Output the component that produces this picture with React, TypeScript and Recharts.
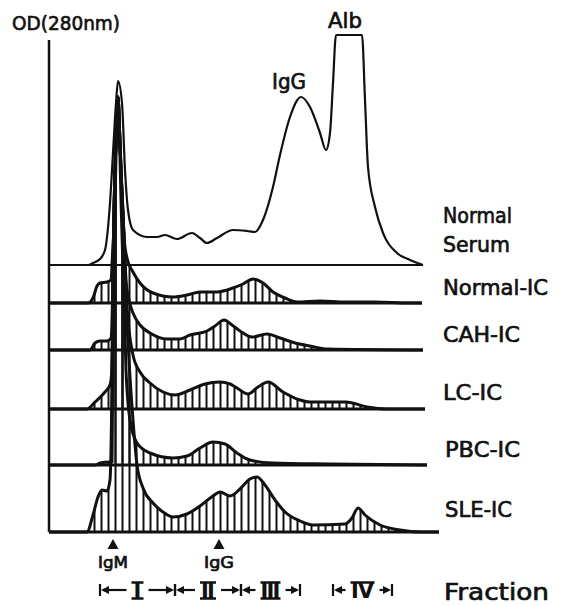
import { ComposedChart, Area, XAxis, YAxis, ReferenceLine, ReferenceDot } from 'recharts';

// elution profiles: [fraction position, OD above the trace's own baseline]
type Pt = [number, number];

const normalSerum: Pt[] = [
  [0, 0], [7.8, 0], [8.8, 0.5], [10.2, 1.5], [11.2, 3.75], [12.2, 15.5], [12.8, 28], [13.4, 40.5], [13.8, 46],
  [14.6, 40.5], [15.2, 23.75], [15.8, 13.75], [16.8, 8.75], [19.6, 7], [21.6, 7], [23.2, 7.5], [25.6, 6.5],
  [28.6, 8], [30.2, 6.75], [31.6, 5.5], [33.6, 6.75], [36.8, 8.75], [39.6, 8.5], [41.2, 8.25], [42.8, 11.25],
  [44.8, 19.5], [46.2, 27.5], [48.2, 37], [50.4, 42], [52.2, 39.5], [54.2, 33], [55.4, 28.75], [56.2, 33],
  [56.8, 45.5], [57.4, 57.5], [62.6, 57.5], [63.2, 41.25], [63.8, 24.5], [65.2, 14.5], [66.8, 8], [69.6, 3],
  [72.2, 1.25], [74.8, 0],
];

const normalIC: Pt[] = [
  [0, 0], [7.8, 0], [8.8, 1.25], [9.6, 4.25], [10.2, 5], [11.6, 5.25], [12.4, 5.75], [12.7, 12], [12.9, 16.5],
  [13.2, 33.25], [13.5, 43.25], [13.8, 51.5], [14.1, 43.25], [14.4, 33.25], [15, 16.5], [15.6, 11.25],
  [16.8, 7.75], [18.2, 5], [20.8, 2.5], [24.8, 1.5], [27.6, 2], [30.2, 2.75], [33.6, 2.75], [36.8, 3.75],
  [38.8, 4.75], [40.8, 6], [42.8, 5], [44.8, 2.75], [47.2, 1.25], [49.6, 0.25], [54.2, 0.5], [59.2, 0.25],
  [65.2, 0.25], [72.2, 0], [74.6, 0],
];

const cahIC: Pt[] = [
  [0, 0], [8.2, 0], [9.2, 1.75], [10.2, 2.25], [11.6, 2.25], [12.4, 3], [12.7, 12.5], [12.9, 28.25], [13.2, 45],
  [13.5, 55], [13.8, 63.25], [14.1, 55], [14.4, 45], [15, 28.25], [15.4, 17.5], [16, 12.5], [16.8, 9.25],
  [18.2, 6.25], [20.2, 4.25], [23.6, 2.75], [26.2, 2.75], [28.2, 3.75], [31.6, 4.75], [33.2, 6], [35, 7.5],
  [36.6, 6.25], [38.2, 4.75], [40.6, 3.25], [43.6, 4], [46.2, 3], [49.2, 1.75], [52.2, 1], [55.6, 0.25],
  [74.8, 0],
];

const lcIC: Pt[] = [
  [0, 0], [7.6, 0], [9.2, 1.75], [11.2, 4.25], [12.2, 6], [12.5, 8.5], [12.7, 19.75], [12.9, 43], [13.2, 59.75],
  [13.5, 69.75], [13.8, 78], [14.1, 69.75], [14.4, 59.75], [15, 43], [15.4, 29.75], [16, 19.75], [16.8, 13.5],
  [18.2, 9.25], [20.2, 6.5], [22.8, 4.25], [25.2, 3.5], [28.2, 4.75], [31.2, 6.25], [34.2, 6.75], [36.2, 6.25],
  [37.6, 5.25], [39.8, 3.75], [41.8, 5.5], [43.8, 6.75], [46.8, 4.25], [50.2, 2.25], [52.2, 1.75], [59.4, 1.75],
  [63.6, 0.5], [67.6, 0], [75.2, 0],
];

const pbcIC: Pt[] = [
  [0, 0], [9.2, 0], [10.2, 0.5], [12.2, 0.75], [12.6, 0.75], [12.7, 16.25], [12.9, 41.25], [13.2, 66.25],
  [13.5, 82.5], [13.8, 92], [14.1, 82.5], [14.4, 66.25], [15, 41.25], [15.4, 23.75], [16.2, 11.25], [17.6, 5.5],
  [20.2, 3], [24.8, 1.75], [27.6, 2.25], [30.2, 4.25], [32.8, 5.75], [35.2, 5.25], [37.6, 3], [40.2, 1.25],
  [44.8, 0.5], [56.2, 0.25], [75.6, 0],
];

const sleIC: Pt[] = [
  [0, 0], [7.6, 0], [8.8, 4.25], [9.8, 8.75], [10.6, 10.5], [11.6, 10.25], [12.2, 13], [12.5, 28], [12.7, 50.5],
  [12.9, 73.75], [13.2, 90.5], [13.5, 100.5], [13.8, 108.75], [14.1, 100.5], [14.4, 90.5], [15, 73.75],
  [15.4, 58], [16, 43], [16.8, 28], [17.6, 16.75], [18.8, 11], [20.8, 7.25], [22.8, 5], [24.8, 3.75],
  [27.6, 4.5], [30.2, 6.5], [32.8, 9], [34.2, 10], [36.2, 9], [38.2, 10.75], [40.2, 13.25], [41.6, 13.75],
  [43.2, 11.75], [45.2, 8], [47.2, 5], [50.2, 2.75], [52.8, 1.75], [59.2, 2], [60.6, 3.5], [61.8, 6],
  [63.2, 4.25], [66.2, 1.75], [70.2, 0.5], [74.2, 0], [78, 0],
];

const traceNames = ['Normal Serum', 'Normal-IC', 'CAH-IC', 'LC-IC', 'PBC-IC', 'SLE-IC'];
const traceData = [normalSerum, normalIC, cahIC, lcIC, pbcIC, sleIC];

const markers = [
  { name: 'IgM', t: 12.8 },
  { name: 'IgG', t: 34 },
];

const fractions = [
  { name: 'Ⅰ', from: 10.2, to: 25.2 },
  { name: 'Ⅱ', from: 25.2, to: 38.4 },
  { name: 'Ⅲ', from: 38.4, to: 50.2 },
  { name: 'Ⅳ', from: 56.8, to: 68.6 },
];

// vertical stacking of the profiles (y units)
const baselines = [66.75, 57.25, 45.5, 30.75, 16.75, 0];

const INK = '#111';
const FONT = "'DejaVu Sans', sans-serif";

// right-hand labels: [text, x, baseline y, width]
const traceLabels: [string, number, number, number][] = [
  ['Normal', 443, 223, 69],
  ['Serum', 443, 252, 67],
  ['Normal-IC', 443, 295, 105],
  ['CAH-IC', 443, 342, 77],
  ['LC-IC', 443, 400, 59],
  ['PBC-IC', 445, 457, 75],
  ['SLE-IC', 445, 517, 67],
];

// numeral glyph half widths and whether a bottom bar is drawn
const numeralStyle: Record<string, { h: number; bottom: boolean }> = {
  'Ⅰ': { h: 6, bottom: true },
  'Ⅱ': { h: 8, bottom: true },
  'Ⅲ': { h: 10, bottom: true },
  'Ⅳ': { h: 12, bottom: false },
};

const Label = ({ x, y, w, size, children, anchor }: any) => (
  <text
    x={x}
    y={y}
    textAnchor={anchor ?? 'start'}
    fontFamily={FONT}
    fontSize={size}
    fill={INK}
    stroke={INK}
    strokeWidth={0.7}
    textLength={w}
    lengthAdjust="spacingAndGlyphs"
  >
    {children}
  </text>
);

const Triangle = (props: any) => {
  const { cx, cy, name } = props;
  return (
    <g>
      <path d={`M${cx},${cy - 5} L${cx + 5.5},${cy + 5} L${cx - 5.5},${cy + 5} Z`} fill={INK} />
      <Label x={cx} y={cy + 24} w={30} size={15} anchor="middle">{name}</Label>
    </g>
  );
};

const FractionSpan = (props: any) => {
  const { x1, x2, y1, name } = props;
  const y = y1;
  const mid = (x1 + x2) / 2;
  const st = numeralStyle[name] ?? { h: 10, bottom: true };
  const h = st.h;
  return (
    <g>
      <g stroke={INK} strokeWidth={2.2}>
        <line x1={x1} y1={y - 6} x2={x1} y2={y + 6} />
        <line x1={x2} y1={y - 6} x2={x2} y2={y + 6} />
        <line x1={x1 + 3} y1={y} x2={mid - h - 5} y2={y} />
        <line x1={mid + h + 5} y1={y} x2={x2 - 3} y2={y} />
        <line x1={mid - h} y1={y - 7.5} x2={mid + h} y2={y - 7.5} strokeWidth={2.5} />
        {st.bottom && <line x1={mid - h} y1={y + 8.5} x2={mid + h} y2={y + 8.5} strokeWidth={2.5} />}
      </g>
      <path d={`M${x1 + 1},${y} l8,-4 v8 Z`} fill={INK} />
      <path d={`M${x2 - 1},${y} l-8,-4 v8 Z`} fill={INK} />
      <text x={mid} y={y + 8} textAnchor="middle" fontFamily={FONT} fontWeight="bold" fontSize={21} fill={INK}>
        {name}
      </text>
    </g>
  );
};

export default function App() {
  return (
    <div style={{ position: 'absolute', left: 0, top: 0, width: 562, height: 606, background: '#fff' }}>
      <ComposedChart width={562} height={606} margin={{ top: 32, right: 123, bottom: 74, left: 49 }}>
        <defs>
          <pattern id="hatch" patternUnits="userSpaceOnUse" width={7} height={8}>
            <line x1={3.5} y1={0} x2={3.5} y2={8} stroke={INK} strokeWidth={2} />
          </pattern>
        </defs>
        <XAxis type="number" dataKey="t" domain={[0, 78]} hide />
        <YAxis type="number" domain={[0, 125]} hide />
        <ReferenceLine segment={[{ x: 0, y: 0 }, { x: 0, y: 123 }]} stroke={INK} strokeWidth={2.5} />
        {traceData.map((pts, i) => {
          const base = baselines[i];
          return (
            <Area
              key={traceNames[i]}
              name={traceNames[i]}
              data={pts.map(([t, v]) => ({ t, v }))}
              dataKey={(d: { v: number }) => [base, base + d.v]}
              type="monotone"
              stroke={INK}
              strokeWidth={i === 0 ? 2.2 : 3}
              strokeLinejoin="round"
              fill={i === 0 ? 'none' : 'url(#hatch)'}
              fillOpacity={1}
              dot={false}
              activeDot={false}
              isAnimationActive={false}
            />
          );
        })}
        {markers.map((m) => (
          <ReferenceDot
            key={m.name}
            x={m.t}
            y={-3}
            ifOverflow="visible"
            shape={(p: any) => <Triangle {...p} name={m.name} />}
          />
        ))}
        {fractions.map((f) => (
          <ReferenceLine
            key={f.name}
            segment={[{ x: f.from, y: -14.5 }, { x: f.to, y: -14.5 }]}
            ifOverflow="visible"
            shape={(p: any) => <FractionSpan {...p} name={f.name} />}
          />
        ))}
        <Label x={12} y={30} w={108} size={20}>OD(280nm)</Label>
        <Label x={328} y={28} w={34} size={21}>Alb</Label>
        <Label x={272} y={89} w={34} size={21}>IgG</Label>
        {traceLabels.map(([s, x, y, w]) => (
          <Label key={s} x={x} y={y} w={w} size={22}>{s}</Label>
        ))}
        <Label x={444} y={600} w={105} size={23}>Fraction</Label>
      </ComposedChart>
    </div>
  );
}
